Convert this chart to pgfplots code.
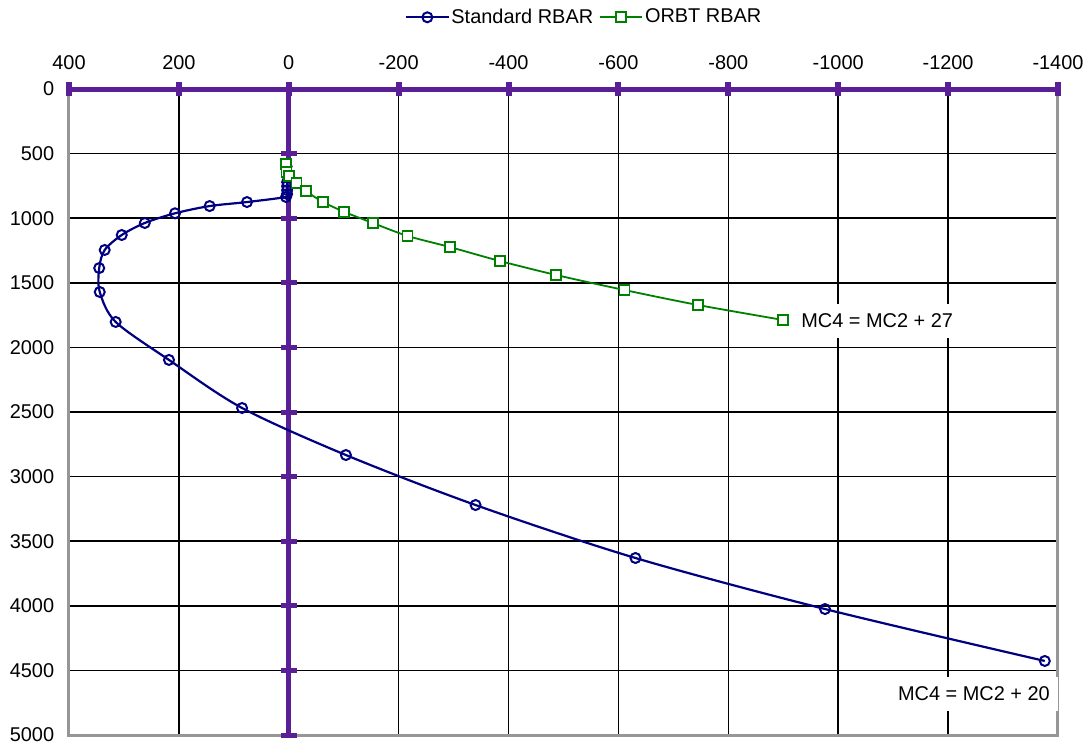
\documentclass[border=0pt]{standalone}
\usepackage{fontspec}
\setmainfont{Liberation Sans}
\usepackage{pgfplots}
\pgfplotsset{compat=1.18}
\definecolor{navyc}{RGB}{0,0,128}
\definecolor{greenc}{RGB}{0,128,0}
\definecolor{axpurple}{RGB}{90,30,150}
\definecolor{bordergray}{RGB}{150,150,150}
\begin{document}
\fontsize{20}{24}\selectfont
\begin{tikzpicture}[x=1bp,y=1bp]
\begin{axis}[
  at={(0,0)}, anchor=south west,
  scale only axis, width=989bp, height=646bp,
  xmin=-1400, xmax=400, ymin=0, ymax=5000,
  x dir=reverse, y dir=reverse,
  xtick={-1400,-1200,...,400}, ytick={0,500,...,5000},
  xticklabel pos=right,
  xticklabel style={yshift=12bp},
  yticklabel style={xshift=-8bp},
  grid=major, major grid style={black, line width=1.6bp},
  axis line style={bordergray, line width=3bp},
  major tick length=0pt,
  tick label style={font=\fontsize{20}{24}\selectfont},
  /pgf/number format/assume math mode=true,
  /pgf/number format/1000 sep={},
  clip=false,
  legend columns=2,
  legend style={at={(0.521,1.111)}, anchor=center, draw=none, fill=none,
    font=\fontsize{20}{24}\selectfont, /tikz/every even column/.append style={column sep=4bp}},
  legend image code/.code={\draw[mark repeat=2,mark phase=2] plot coordinates {(0bp,0bp)(21bp,0bp)(42bp,0bp)};},
]
% thick purple axes
\draw[axpurple, line width=5bp] (axis cs:400,0) -- (axis cs:-1400,0);
\draw[axpurple, line width=5bp] (axis cs:0,0) -- (axis cs:0,5000);
\pgfplotsinvokeforeach{400,200,0,-200,-400,-600,-800,-1000,-1200,-1400}{
  \draw[axpurple, line width=6bp] ([yshift=-7bp]axis cs:#1,0) -- ([yshift=7bp]axis cs:#1,0);
}
\pgfplotsinvokeforeach{0,500,1000,1500,2000,2500,3000,3500,4000,4500,5000}{
  \draw[axpurple, line width=5bp] ([xshift=-8bp]axis cs:0,#1) -- ([xshift=8bp]axis cs:0,#1);
}
\node[fill=white, inner xsep=8bp, inner ysep=10bp] at (axis cs:-1071,1796) {MC4 = MC2 + 27};
\node[fill=white, inner xsep=8bp, inner ysep=10bp] at (axis cs:-1247,4683) {MC4 = MC2 + 20};

\addplot[navyc, line width=2.2bp, smooth, tension=0.5, mark=o, mark size=5bp,
  mark options={solid, fill=white, line width=2bp}] coordinates {
(4,600) (3,660) (3,720) (3,752) (3,783) (3,813) (5,836)
(76,875) (144,906) (207,962) (262,1037) (304,1130) (335,1246) (345,1386)
(344,1571) (315,1803) (218,2097) (85,2469) (-104,2833) (-340,3220)
(-631,3630) (-976,4025) (-1376,4427)
};
\addlegendentry{Standard RBAR}
\addplot[greenc, line width=1.8bp, smooth, tension=0.5, mark=square*, mark size=5bp,
  mark options={solid, fill=white, line width=1.8bp}] coordinates {
(5,580) (4,640) (0,673) (-14,727) (-31,789) (-62,874) (-101,951) (-153,1037)
(-216,1137) (-293,1223) (-384,1331) (-487,1440) (-611,1556) (-745,1672) (-900,1788)
};
\addlegendentry{ORBT RBAR}
\end{axis}
\pgfresetboundingbox
\path (-69bp,-11bp) rectangle (1020bp,735bp);
\end{tikzpicture}
\end{document}
